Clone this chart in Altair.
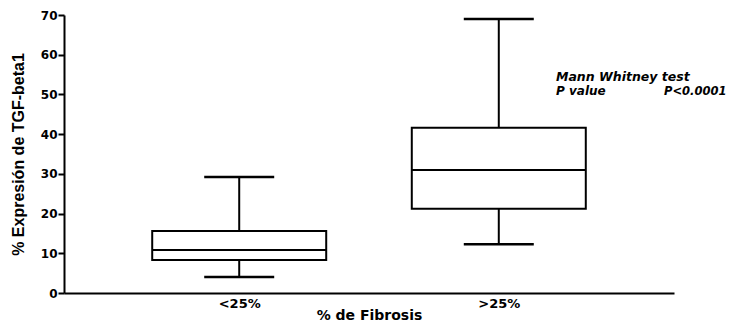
import altair as alt
import pandas as pd

categories = ["<25%", ">25%"]
whisker_low = [4.0, 12.3]
q1 = [8.3, 21.2]
median = [10.8, 31.0]
q3 = [15.6, 41.6]
whisker_high = [29.2, 69.0]

y_ticks = [0, 10, 20, 30, 40, 50, 60, 70]

note_lines = ["Mann Whitney test", "P value", "P<0.0001"]

df = pd.DataFrame({
    "cat": categories,
    "lo": whisker_low,
    "q1": q1,
    "med": median,
    "q3": q3,
    "hi": whisker_high,
})

FONT = "DejaVu Sans"

x_axis = alt.Axis(
    title="% de Fibrosis",
    labelAngle=0,
    ticks=False,
    labelFont=FONT,
    labelFontWeight="bold",
    labelFontSize=13,
    labelColor="black",
    labelPadding=4,
    titleFont=FONT,
    titleFontWeight="bold",
    titleFontSize=14,
    titleColor="black",
    titlePadding=-2,
    domainColor="black",
    domainWidth=2,
    grid=False,
)
x_scale = alt.Scale(type="point", domain=categories, padding=0.675)
y_scale = alt.Scale(domain=[0, 70], nice=False, zero=True)
y_axis = alt.Axis(
    title="% Expresión de TGF-beta1",
    values=y_ticks,
    labelOverlap=False,
    tickSize=6,
    tickWidth=2,
    tickColor="black",
    labelFont=FONT,
    labelFontWeight="bold",
    labelFontSize=12,
    labelColor="black",
    labelPadding=1,
    titleFont="Liberation Sans",
    titleFontWeight="bold",
    titleFontSize=16,
    titleColor="black",
    titlePadding=14,
    domainColor="black",
    domainWidth=2,
    grid=False,
)


def X():
    return alt.X("cat:N", scale=x_scale, axis=x_axis)


def Y(field):
    return alt.Y(f"{field}:Q", scale=y_scale, axis=y_axis)


base = alt.Chart(df)

lower = base.mark_rule(color="black", strokeWidth=2).encode(
    x=X(), y=Y("lo"), y2="q1:Q"
)
upper = base.mark_rule(color="black", strokeWidth=2).encode(
    x=X(), y=Y("q3"), y2="hi:Q"
)
box = base.mark_bar(size=174, fill="white", stroke="black", strokeWidth=2).encode(
    x=X(), y=Y("q1"), y2="q3:Q"
)
med_tick = base.mark_tick(size=174, thickness=2, color="black", opacity=1).encode(
    x=X(), y=Y("med")
)
cap_lo = base.mark_tick(size=70, thickness=2.5, color="black", opacity=1).encode(
    x=X(), y=Y("lo")
)
cap_hi = base.mark_tick(size=70, thickness=2.5, color="black", opacity=1).encode(
    x=X(), y=Y("hi")
)

notes = pd.DataFrame({
    "text": note_lines,
    "yv": [53.3, 49.8, 49.8],
    "px": [492, 492, 600],
    "fs": [12.5, 12, 11.5],
})
note = alt.Chart(notes).mark_text(
    align="left", baseline="alphabetic", font=FONT, fontWeight="bold",
    fontStyle="italic", color="black"
).encode(
    x=alt.X("px:Q", scale=None),
    y=alt.Y("yv:Q", scale=y_scale, axis=y_axis),
    text="text:N",
    size=alt.Size("fs:Q", scale=None, legend=None),
)

chart = alt.layer(lower, upper, box, med_tick, cap_lo, cap_hi, note).properties(
    width=610,
    height=278,
    autosize=alt.AutoSizeParams(type="none"),
    padding={"left": 56, "top": 7, "right": 54, "bottom": 29},
    background="white",
).configure_view(stroke=None)

chart.save("out.html", embed_options={"renderer": "svg", "actions": False})
